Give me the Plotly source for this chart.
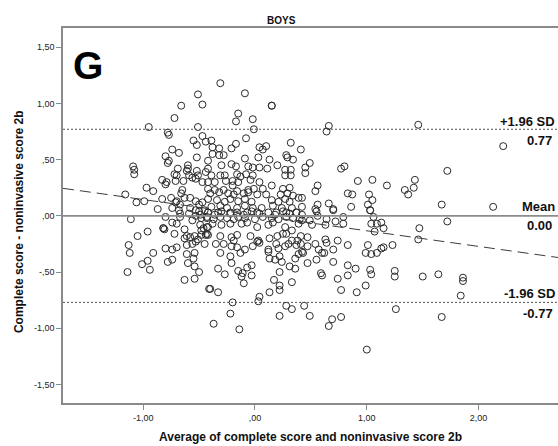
import plotly.graph_objects as go

# Bland-Altman plot: difference vs. average of the two scores (boys)
avg_score = [
    -0.51, -0.47, -0.66, -0.72, -0.95, -0.51, -0.47, -0.78, -0.77, -0.55, -0.52, -0.44, -0.74, -0.68, -0.80,
    -0.77, -0.78, -0.52, -1.09, -1.08, -1.08, -0.69, -0.60, -0.60, -0.61, -0.52, -0.44, -0.72, -0.70, -0.83,
    -0.79, -0.80, -0.71, -0.64, -0.59, -0.56, -0.53, -0.51, -0.47, -0.42, -0.97, -0.91, -1.16, -1.06, -0.99,
    -0.83, -0.87, -0.75, -0.70, -0.65, -0.66, -0.63, -0.58, -0.53, -0.50, -0.47, -0.42, -0.71, -0.67, -0.74,
    -0.68, -0.58, -0.53, -0.50, -0.45,
    -0.31, -0.09, 0.15, 0.15, -0.15, -0.17, -0.02, -0.01, -0.08, -0.39, -0.38, -0.32, -0.32, -0.38, -0.28,
    -0.21, -0.17, 0.04, 0.07, 0.10, 0.32, 0.41, -0.09, 0.03, 0.13, 0.20, 0.28, 0.29, 0.34, -0.42,
    -0.42, -0.30, -0.21, -0.17, -0.06, -0.02, 0.04, 0.11, 0.27, 0.32, 0.27, 0.32, -0.39, -0.31, -0.27,
    -0.16, -0.13, -0.08, -0.02, -0.36, -0.26, -0.20, -0.15, -0.04, 0.04, -0.42, -0.36, -0.28, -0.20, -0.16,
    -0.06, -0.01, 0.07, 0.15, 0.25, 0.31, 0.39, 0.42,
    -0.40, -0.32, -0.24, -0.19, -0.10, -0.06, 0.02, 0.10, 0.23, 0.29, 0.34,
    -0.34, -0.27, -0.22, -0.15, -0.09, -0.03, 0.15, 0.21, 0.27, 0.31,
    -0.39, -0.31, -0.25, -0.16, -0.09, -0.02, 0.06, 0.16, 0.24, 0.33, 0.42,
    -0.42, -0.33, -0.22, -0.07, 0.02, 0.19, 0.28, 0.37,
    0.66, 0.64, 0.49, 0.45, 0.45, 0.77, 0.80, 0.92, 1.05, 1.18, 0.56, 0.54, 0.83, 0.87, 1.02,
    1.05, 1.01, 0.56, 0.54, 0.66, 0.70, 0.86, 1.03,
    1.46, 2.22, 1.72, 1.43, 1.42, 1.34, 1.37, 1.67, 2.13,
    -1.11, -0.82, -0.82, -0.81, -0.74, -0.70, -0.80, -0.67, -0.67, -1.05, -0.96, -0.72, -0.63, -0.61, -0.63,
    -0.58, -0.54, -0.51, -0.53, -0.56, -0.61, -0.49, -0.46, -0.48, -0.43, -0.45, -0.49, -1.13, -1.12, -0.91,
    -0.80, -0.74, -0.70, -0.96, -1.01, -0.94, -0.78, -0.74, -0.61, -0.54, -0.55, -0.60, -0.54, -0.50, -1.14,
    -0.63, -0.54, -0.41, -0.59, -0.53, -0.48, -0.43, -0.56, -0.42, -0.48, -0.44,
    -0.42, -0.36, -0.30, -0.22, -0.16, -0.10, -0.03, 0.04, 0.12, 0.18, 0.25, 0.31, 0.37, 0.42,
    -0.43, -0.37, -0.31, -0.25, -0.19, -0.15, -0.09, 0.00, 0.07, 0.15, 0.21, 0.28, 0.34, 0.40,
    -0.07, -0.12, -0.22, -0.30, -0.38, -0.43, 0.02, 0.12, 0.16, 0.27, 0.33, 0.39,
    -0.42, -0.31, -0.21, -0.19, -0.16, -0.04, 0.03, 0.04, 0.13, 0.20, 0.25, 0.28, 0.33, 0.38, 0.41,
    -0.35, -0.28, -0.21, -0.16, -0.02, 0.02, 0.12, 0.19, 0.21, 0.27, 0.30, 0.37, 0.41,
    -0.31, -0.22, -0.13, -0.09, 0.12, 0.13, 0.18, 0.22, 0.24, 0.36, 0.39, 0.42,
    -0.21, -0.33, -0.27, -0.15, -0.11, -0.12, -0.07, -0.03, -0.03, -0.10, 0.22, 0.31, 0.36,
    0.17, 0.22, 0.22, 0.13, 0.33, -0.40, -0.33, -0.20, 0.03, 0.04, -0.22, -0.37, -0.14,
    0.28, 0.33, 0.44, 0.22,
    0.55, 0.56, 0.70, 0.79, 1.03, 1.06,
    0.42, 0.49, 0.51, 0.63, 0.64, 0.72, 0.79, 1.04, 1.09, 1.13, 1.15, 1.07,
    0.47, 0.47, 0.54, 0.57, 0.62, 0.64, 0.63, 0.70, 0.74, 0.83, 1.01, 0.99, 1.04, 1.09, 1.13,
    1.15, 1.23, 0.43,
    0.47, 0.55, 0.60, 0.70, 0.83, 0.90, 1.03, 1.04, 0.83, 0.59, 0.60, 0.74, 1.25, 1.25,
    0.77, 0.91, 0.99, 0.49, 0.69, 0.66, 0.77, 1.26, 1.00,
    1.72, 1.47, 1.46, 1.50, 1.64, 1.86, 1.86, 1.84, 1.67,
]

diff_score = [
    1.08, 0.99, 0.98, 0.87, 0.79, 0.79, 0.71, 0.74, 0.72, 0.67, 0.63, 0.66, 0.59, 0.56, 0.53,
    0.49, 0.47, 0.52, 0.44, 0.41, 0.37, 0.42, 0.45, 0.42, 0.40, 0.40, 0.39, 0.37, 0.36, 0.32,
    0.30, 0.28, 0.31, 0.31, 0.36, 0.34, 0.33, 0.36, 0.30, 0.30, 0.25, 0.22, 0.19, 0.12, 0.13,
    0.15, 0.06, 0.16, 0.13, 0.23, 0.20, 0.16, 0.16, 0.13, 0.10, 0.12, 0.15, 0.12, 0.10, 0.07,
    0.05, 0.07, 0.05, 0.04, 0.05,
    1.18, 1.09, 0.98, 0.98, 0.91, 0.84, 0.86, 0.77, 0.69, 0.67, 0.61, 0.60, 0.54, 0.55, 0.54,
    0.60, 0.64, 0.61, 0.59, 0.62, 0.65, 0.59, 0.51, 0.52, 0.50, 0.45, 0.54, 0.52, 0.50, 0.49,
    0.42, 0.45, 0.46, 0.44, 0.44, 0.43, 0.43, 0.42, 0.41, 0.41, 0.36, 0.36, 0.36, 0.36, 0.36,
    0.37, 0.35, 0.37, 0.36, 0.30, 0.31, 0.31, 0.30, 0.32, 0.30, 0.24, 0.23, 0.23, 0.27, 0.22,
    0.23, 0.24, 0.24, 0.27, 0.24, 0.25, 0.16, 0.16,
    0.20, 0.21, 0.20, 0.19, 0.20, 0.21, 0.19, 0.19, 0.19, 0.20, 0.18,
    0.14, 0.125, 0.15, 0.13, 0.15, 0.125, 0.14, 0.125, 0.15, 0.125,
    0.08, 0.09, 0.07, 0.07, 0.09, 0.07, 0.07, 0.09, 0.07, 0.07, 0.08,
    0.03, 0.03, 0.03, 0.03, 0.03, 0.03, 0.03, 0.03,
    0.80, 0.75, 0.47, 0.43, 0.38, 0.42, 0.44, 0.31, 0.32, 0.27, 0.27, 0.22, 0.20, 0.19, 0.19,
    0.14, 0.10, 0.10, 0.06, 0.11, 0.06, 0.08, 0.05,
    0.81, 0.62, 0.40, 0.32, 0.25, 0.23, 0.19, 0.10, 0.08,
    -0.03, -0.11, -0.11, -0.12, -0.06, -0.07, -0.01, 0.02, -0.01, -0.18, -0.14, -0.16, -0.12, -0.18, -0.20,
    -0.19, -0.18, -0.21, -0.23, -0.25, -0.26, -0.08, -0.11, -0.13, -0.16, -0.25, 0.01, -0.26, -0.33, -0.33,
    -0.29, -0.30, -0.28, -0.40, -0.43, -0.48, -0.41, -0.39, -0.34, -0.33, -0.38, -0.42, -0.45, -0.50, -0.50,
    -0.57, -0.56, -0.65, 0.02, 0.00, -0.02, -0.01, -0.04, -0.10, -0.17, -0.17,
    0.03, 0.01, 0.04, 0.02, 0.03, 0.01, 0.04, 0.02, 0.03, 0.01, 0.04, 0.02, 0.03, 0.01,
    -0.02, -0.03, -0.01, -0.02, -0.03, -0.01, -0.02, -0.03, -0.01, -0.02, -0.03, -0.01, -0.02, -0.03,
    -0.06, -0.07, -0.07, -0.08, -0.07, -0.10, -0.10, -0.08, -0.06, -0.10, -0.13, -0.07,
    -0.17, -0.18, -0.19, -0.22, -0.17, -0.18, -0.22, -0.24, -0.20, -0.18, -0.16, -0.16, -0.22, -0.22, -0.18,
    -0.25, -0.25, -0.27, -0.28, -0.27, -0.23, -0.30, -0.25, -0.29, -0.27, -0.25, -0.26, -0.25,
    -0.33, -0.36, -0.33, -0.30, -0.32, -0.38, -0.39, -0.36, -0.41, -0.38, -0.34, -0.32,
    -0.42, -0.47, -0.52, -0.49, -0.51, -0.54, -0.46, -0.44, -0.53, -0.60, -0.50, -0.45, -0.47,
    -0.57, -0.62, -0.66, -0.68, -0.59, -0.65, -0.68, -0.77, -0.76, -0.72, -0.87, -0.96, -1.01,
    -0.80, -0.83, -0.80, -0.89,
    0.04, 0.00, 0.05, -0.01, 0.05, -0.01,
    -0.04, -0.04, -0.08, -0.08, -0.03, -0.05, -0.07, -0.07, -0.07, -0.06, -0.11, -0.14,
    -0.19, -0.27, -0.25, -0.30, -0.33, -0.24, -0.21, -0.30, -0.22, -0.26, -0.26, -0.33, -0.34, -0.33, -0.29,
    -0.28, -0.26, -0.33,
    -0.42, -0.39, -0.33, -0.41, -0.44, -0.47, -0.48, -0.52, -0.53, -0.51, -0.53, -0.56, -0.49, -0.54,
    -0.66, -0.68, -0.62, -0.89, -0.92, -0.98, -0.90, -0.83, -1.19,
    -0.05, -0.11, -0.21, -0.54, -0.52, -0.55, -0.58, -0.71, -0.90,
]

# Agreement statistics and fitted trend of difference on average
mean_diff = 0.00
sd_limit = 0.77
trend_intercept = 0.006
trend_slope = -0.139

x_range = [-1.717, 2.71]
y_range = [-1.665, 1.671]

x_ticks = [-1.0, 0.0, 1.0, 2.0]
x_ticklabels = ["-1,00", ",00", "1,00", "2,00"]
y_ticks = [-1.5, -1.0, -0.5, 0.0, 0.5, 1.0, 1.5]
y_ticklabels = ["-1,50", "-1,00", "-,50", ",00", ",50", "1,00", "1,50"]

fig = go.Figure()

fig.add_trace(go.Scatter(
    x=avg_score, y=diff_score, mode="markers",
    marker=dict(symbol="circle-open", size=7, color="#2a2a2a", line=dict(width=1, color="#2a2a2a")),
    showlegend=False, hoverinfo="skip",
))

# regression of difference on average
trend_x = x_range
trend_y = [trend_intercept + trend_slope * v for v in trend_x]
fig.add_trace(go.Scatter(
    x=trend_x, y=trend_y, mode="lines",
    line=dict(color="#3c3c3c", width=1, dash="11px,6px"),
    showlegend=False, hoverinfo="skip",
))

# mean and limits of agreement
fig.add_hline(y=mean_diff, line=dict(color="#8c8c8c", width=1.6))
fig.add_hline(y=sd_limit, line=dict(color="#505050", width=1, dash="2px,2px"))
fig.add_hline(y=-sd_limit, line=dict(color="#505050", width=1, dash="2px,2px"))

bold = dict(family="Liberation Sans, Arial, sans-serif", size=13, color="#111")
labels = [
    ("+1.96 SD", sd_limit, 8, -1),
    (f"{sd_limit:.2f}", sd_limit, -11, -4),
    ("Mean", mean_diff, 9, -1),
    (f"{mean_diff:.2f}", mean_diff, -10, -4),
    ("-1.96 SD", -sd_limit, 9, -1),
    (f"{-sd_limit:.2f}", -sd_limit, -11, -3),
]
for text, yv, ys, xs in labels:
    fig.add_annotation(text=f"<b>{text}</b>", xref="paper", yref="y", x=1, y=yv,
                       xanchor="right", yanchor="middle", xshift=xs, yshift=ys,
                       showarrow=False, font=bold)

fig.add_annotation(text="<b>BOYS</b>", xref="paper", yref="paper", x=0.442, y=1,
                   yshift=8, xanchor="center", yanchor="middle", showarrow=False,
                   font=dict(family="Liberation Sans, Arial, sans-serif", size=10, color="#111"))
fig.add_annotation(text="<b>G</b>", xref="paper", yref="paper", x=0.0505, y=0.899,
                   xanchor="center", yanchor="middle", showarrow=False,
                   font=dict(family="Liberation Sans, Arial, sans-serif", size=39, color="#000"))
fig.add_annotation(text="<b>Complete score - noninvasive score 2b</b>", xref="paper", yref="paper",
                   x=-0.0889, y=0.485, textangle=-90, xanchor="center", yanchor="middle",
                   showarrow=False,
                   font=dict(family="Liberation Sans, Arial, sans-serif", size=12, color="#111"))
fig.add_annotation(text="<b>Average of complete score and noninvasive score 2b</b>", xref="paper",
                   yref="paper", x=0.499, y=-0.0907, xanchor="center", yanchor="middle",
                   showarrow=False,
                   font=dict(family="Liberation Sans, Arial, sans-serif", size=12, color="#111"))

tick_font = dict(family="Liberation Sans, Arial, sans-serif", size=9, color="#222")
fig.update_xaxes(range=x_range, tickvals=x_ticks, ticktext=x_ticklabels, showgrid=False,
                 zeroline=False, showline=True, linecolor="#8a8a8a", linewidth=1.5, mirror=True,
                 ticks="outside", ticklen=5, tickcolor="#8a8a8a", tickfont=tick_font)
fig.update_yaxes(range=y_range, tickvals=y_ticks, ticktext=y_ticklabels, showgrid=False,
                 zeroline=False, showline=True, linecolor="#8a8a8a", linewidth=1.5,
                 ticks="outside", ticklen=5, tickcolor="#8a8a8a", tickfont=tick_font)

fig.update_layout(
    width=558, height=446,
    margin=dict(l=63, r=0, t=28, b=43),
    paper_bgcolor="white", plot_bgcolor="white",
    showlegend=False,
)

fig.write_html("out.html")
